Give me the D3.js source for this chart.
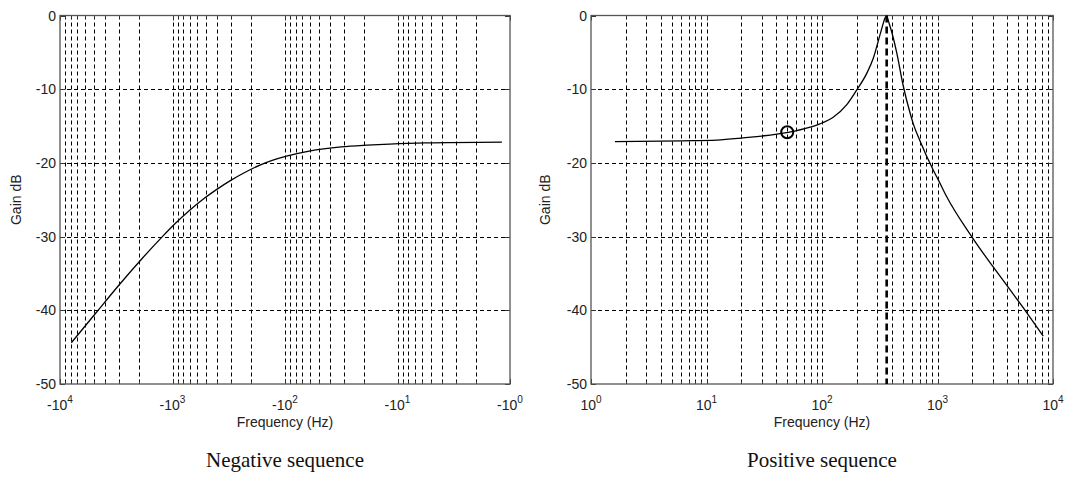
<!DOCTYPE html>
<html>
<head>
<meta charset="utf-8">
<script src="https://cdn.jsdelivr.net/npm/d3@7"></script>
<style>
  html, body { margin: 0; padding: 0; background: #ffffff; }
  svg { display: block; }
</style>
</head>
<body>
<svg id="chart" width="1068" height="479"></svg>
<script>
// ---------------- data ----------------
// Negative sequence: frequency (Hz, negative) and gain (dB)
const negFreq = [-7930, -4700, -3000, -1870, -1230, -936, -720, -518, -398, -306, -228, -165, -130, -97, -61, -31.7, -18.7, -11.8, -5.7, -1.18];
const negGain = [-44.4, -40.2, -36.6, -33.0, -30.0, -28.16, -26.56, -24.77, -23.52, -22.40, -21.30, -20.26, -19.66, -19.08, -18.39, -17.82, -17.59, -17.45, -17.29, -17.17];

// Positive sequence: frequency (Hz) and gain (dB)
const posFreq = [1.61, 6.3, 12.3, 20.8, 40.7, 51, 79, 96, 125, 164, 200, 244, 278, 318, 340, 351, 363, 380, 401, 443, 506, 578, 617, 700, 920, 1016, 1202, 1977, 3970, 5916, 8230];
const posGain = [-17.1, -17.0, -16.9, -16.6, -16.1, -15.85, -15.15, -14.7, -13.8, -12.1, -10.1, -7.85, -5.8, -2.6, -1.0, -0.35, -0.05, -1.0, -2.2, -5.0, -9.6, -13.2, -14.7, -16.9, -21.0, -22.3, -24.6, -30.0, -36.6, -40.3, -43.5];

// Marker on positive-sequence curve and resonance frequency line
const markerFreq = [50];
const markerGain = [-15.85];
const resonanceFreq = [363];

// Axes ticks / labels
const yTicks = [0, -10, -20, -30, -40, -50];
const negXTicks = [-1e4, -1e3, -1e2, -1e1, -1e0];
const posXTicks = [1e0, 1e1, 1e2, 1e3, 1e4];
const negXTickExp = ["4", "3", "2", "1", "0"];
const posXTickExp = ["0", "1", "2", "3", "4"];
const xLabel = "Frequency (Hz)";
const yLabel = "Gain dB";
const titles = ["Negative sequence", "Positive sequence"];

// ---------------- layout ----------------
const svg = d3.select("#chart");
const yTop = 15.5, yBot = 384;
const y = d3.scaleLinear().domain([-50, 0]).range([yBot, yTop]);
const xNeg = d3.scaleLog().domain([-1e4, -1]).range([60, 510]);
const xPos = d3.scaleLog().domain([1, 1e4]).range([591, 1053]);

const sans = "Arial, 'Liberation Sans', Helvetica, sans-serif";
const serif = "'Times New Roman', 'Liberation Serif', serif";

function drawPanel(x, majors, exps, prefix, fx, fy, title, yLabelX) {
  const g = svg.append("g");
  const [x0, x1] = x.range();
  const allTicks = x.ticks();
  const minors = allTicks.filter(v => !majors.includes(v));
  const innerMajors = majors.filter(v => Math.abs(x(v) - x0) > 1 && Math.abs(x(v) - x1) > 1);

  // grid
  const grid = g.append("g").attr("stroke", "#000").attr("stroke-width", 1)
    .attr("stroke-dasharray", "4,3").attr("fill", "none");
  grid.selectAll("line.vg").data(minors.concat(innerMajors)).join("line")
    .attr("x1", d => Math.round(x(d)) + 0.5).attr("x2", d => Math.round(x(d)) + 0.5)
    .attr("y1", yTop).attr("y2", yBot);
  grid.selectAll("line.hg").data(yTicks.filter(v => v !== 0 && v !== -50)).join("line")
    .attr("x1", x0).attr("x2", x1)
    .attr("y1", d => Math.round(y(d)) + 0.5).attr("y2", d => Math.round(y(d)) + 0.5);

  // ticks (inside, bottom & top, left & right)
  const tk = g.append("g").attr("stroke", "#333").attr("stroke-width", 1);
  allTicks.forEach(v => {
    const len = majors.includes(v) ? 5 : 3;
    const px = Math.round(x(v)) + 0.5;
    tk.append("line").attr("x1", px).attr("x2", px).attr("y1", yBot).attr("y2", yBot - len);
    tk.append("line").attr("x1", px).attr("x2", px).attr("y1", yTop).attr("y2", yTop + len);
  });
  yTicks.forEach(v => {
    const py = Math.round(y(v)) + 0.5;
    tk.append("line").attr("x1", x0).attr("x2", x0 + 5).attr("y1", py).attr("y2", py);
    tk.append("line").attr("x1", x1).attr("x2", x1 - 5).attr("y1", py).attr("y2", py);
  });

  // frame
  g.append("rect").attr("x", x0).attr("y", yTop).attr("width", x1 - x0).attr("height", yBot - yTop)
    .attr("fill", "none").attr("stroke", "#555").attr("stroke-width", 1.3);

  // curve
  const pts = fx.map((f, i) => [x(f), y(fy[i])]);
  g.append("path").datum(pts)
    .attr("d", d3.line().curve(d3.curveMonotoneX))
    .attr("fill", "none").attr("stroke", "#000").attr("stroke-width", 1.3);

  // y tick labels
  g.append("g").selectAll("text").data(yTicks).join("text")
    .attr("x", x0 - 4).attr("y", d => y(d) + 5)
    .attr("text-anchor", "end").attr("font-family", sans).attr("font-size", 14)
    .attr("fill", "#222").text(d => d);

  // x tick labels with exponent
  const xl = g.append("g").selectAll("text").data(majors).join("text")
    .attr("x", d => x(d)).attr("y", 410)
    .attr("text-anchor", "middle").attr("font-family", sans).attr("font-size", 14)
    .attr("fill", "#222");
  xl.append("tspan").text(prefix + "10");
  xl.append("tspan").attr("dy", -7).attr("font-size", 10).text((d, i) => exps[i]);

  // axis labels
  g.append("text").attr("x", (x0 + x1) / 2).attr("y", 427)
    .attr("text-anchor", "middle").attr("font-family", sans).attr("font-size", 14)
    .attr("fill", "#222").text(xLabel);
  g.append("text").attr("transform", `translate(${yLabelX},${(yTop + yBot) / 2}) rotate(-90)`)
    .attr("text-anchor", "middle").attr("font-family", sans).attr("font-size", 14)
    .attr("fill", "#222").text(yLabel);

  // title
  g.append("text").attr("x", (x0 + x1) / 2).attr("y", 467)
    .attr("text-anchor", "middle").attr("font-family", serif).attr("font-size", 21)
    .attr("fill", "#111").text(title);
  return g;
}

drawPanel(xNeg, negXTicks, negXTickExp, "-", negFreq, negGain, titles[0], 21);
const gp = drawPanel(xPos, posXTicks, posXTickExp, "", posFreq, posGain, titles[1], 550);

// resonance line (thick dashed)
gp.append("g").selectAll("line").data(resonanceFreq).join("line")
  .attr("x1", d => xPos(d)).attr("x2", d => xPos(d))
  .attr("y1", yTop).attr("y2", yBot)
  .attr("stroke", "#000").attr("stroke-width", 2.6).attr("stroke-dasharray", "7,4");

// marker circle
gp.append("g").selectAll("circle").data(markerFreq).join("circle")
  .attr("cx", d => xPos(d)).attr("cy", (d, i) => y(markerGain[i]))
  .attr("r", 6).attr("fill", "none").attr("stroke", "#000").attr("stroke-width", 2);
</script>
</body>
</html>
